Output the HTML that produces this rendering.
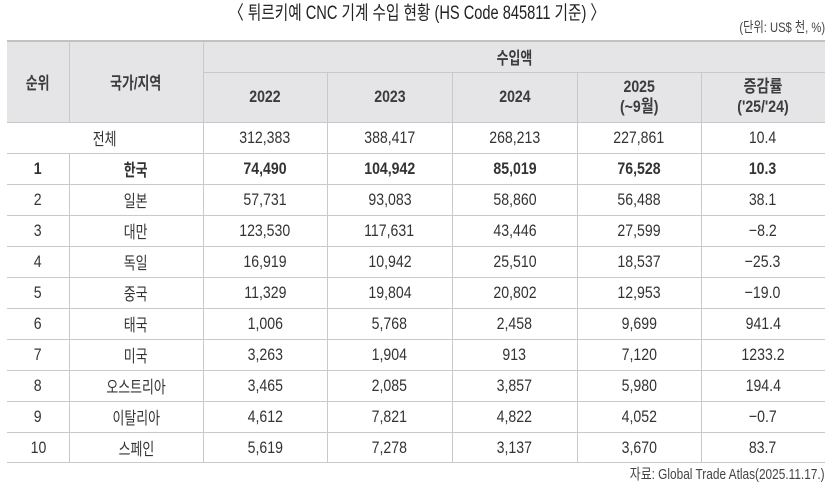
<!DOCTYPE html>
<html><head><meta charset="utf-8">
<style>
html,body{margin:0;padding:0;background:#fff;}
body{width:835px;height:490px;position:relative;overflow:hidden;font-family:"Liberation Sans","Noto Sans CJK KR",sans-serif;color:#333;}
.a{position:absolute;}
.hl{position:absolute;height:1px;background:#c9c9c9;}
.vl{position:absolute;width:1px;background:#c9c9c9;}
.c{position:absolute;display:flex;align-items:center;justify-content:center;text-align:center;font-size:17px;white-space:nowrap;}
.row{position:absolute;left:7px;height:31px;display:flex;font-size:17px;}
.row>div{display:flex;align-items:center;justify-content:center;white-space:nowrap;}
.n{display:inline-block;transform:scaleX(.83);}
.k{display:inline-block;transform:scaleX(.76);}
.b{font-weight:bold;color:#333;}
.h{color:#3c3c3c;font-weight:bold;}
.w1{width:62px}.w2{width:134px}.w3{width:124px}.w4{width:125px}.w5{width:125px}.w6{width:124px}.w7{width:124px}
</style></head><body>

<!-- title -->
<div class="a" style="left:0;top:2px;width:835px;text-align:center;font-size:19px;line-height:24px;color:#222;white-space:nowrap;">
<span style="display:inline-block;transform:scaleX(.77);">〈 튀르키예 CNC 기계 수입 현황 (HS Code 845811 기준) 〉</span>
</div>
<div class="a" style="right:10px;top:18px;font-size:14px;line-height:18px;color:#444;white-space:nowrap;">
<span style="display:inline-block;transform:scaleX(.8);transform-origin:right center;">(단위: US$ 천, %)</span>
</div>

<!-- header background -->
<div class="a" style="left:7px;top:41px;width:818px;height:81px;background:#e5e5e7;"></div>

<!-- lines -->
<div class="hl" style="left:7px;top:40px;width:818px;height:2px;background:#c2c2c2;"></div>
<div class="hl" style="left:203px;top:72px;width:622px;"></div>
<div class="hl" style="left:7px;top:122px;width:818px;"></div>
<div class="hl" style="left:7px;top:153px;width:818px;"></div>
<div class="hl" style="left:7px;top:184px;width:818px;"></div>
<div class="hl" style="left:7px;top:215px;width:818px;"></div>
<div class="hl" style="left:7px;top:246px;width:818px;"></div>
<div class="hl" style="left:7px;top:277px;width:818px;"></div>
<div class="hl" style="left:7px;top:308px;width:818px;"></div>
<div class="hl" style="left:7px;top:339px;width:818px;"></div>
<div class="hl" style="left:7px;top:370px;width:818px;"></div>
<div class="hl" style="left:7px;top:401px;width:818px;"></div>
<div class="hl" style="left:7px;top:432px;width:818px;"></div>
<div class="hl" style="left:7px;top:462px;width:818px;"></div>

<div class="vl" style="left:69px;top:42px;height:80px;"></div>
<div class="vl" style="left:69px;top:153px;height:309px;"></div>
<div class="vl" style="left:203px;top:42px;height:420px;"></div>
<div class="vl" style="left:327px;top:72px;height:390px;"></div>
<div class="vl" style="left:452px;top:72px;height:390px;"></div>
<div class="vl" style="left:577px;top:72px;height:390px;"></div>
<div class="vl" style="left:701px;top:72px;height:390px;"></div>

<!-- header text -->
<div class="c h" style="left:7px;top:41px;width:62px;height:81px;"><span class="k">순위</span></div>
<div class="c h" style="left:69px;top:41px;width:134px;height:81px;"><span class="k">국가/지역</span></div>
<div class="c h" style="left:203px;top:41px;width:622px;height:31px;"><span class="k">수입액</span></div>
<div class="c h" style="left:203px;top:72px;width:124px;height:50px;"><span class="n">2022</span></div>
<div class="c h" style="left:327px;top:72px;width:125px;height:50px;"><span class="n">2023</span></div>
<div class="c h" style="left:452px;top:72px;width:125px;height:50px;"><span class="n">2024</span></div>
<div class="c h" style="left:577px;top:72px;width:124px;height:50px;line-height:20px;"><span class="n">2025<br>(~9월)</span></div>
<div class="c h" style="left:701px;top:72px;width:124px;height:50px;line-height:20px;"><span class="n">증감률<br>('25/'24)</span></div>

<!-- total row -->
<div class="row" style="top:122px;">
<div style="width:196px"><span class="k">전체</span></div>
<div class="w3"><span class="n">312,383</span></div>
<div class="w4"><span class="n">388,417</span></div>
<div class="w5"><span class="n">268,213</span></div>
<div class="w6"><span class="n">227,861</span></div>
<div class="w7"><span class="n">10.4</span></div>
</div>

<div class="row b" style="top:153px;">
<div class="w1"><span class="n">1</span></div><div class="w2"><span class="k">한국</span></div>
<div class="w3"><span class="n">74,490</span></div><div class="w4"><span class="n">104,942</span></div>
<div class="w5"><span class="n">85,019</span></div><div class="w6"><span class="n">76,528</span></div>
<div class="w7"><span class="n">10.3</span></div>
</div>

<div class="row" style="top:184px;">
<div class="w1"><span class="n">2</span></div><div class="w2"><span class="k">일본</span></div>
<div class="w3"><span class="n">57,731</span></div><div class="w4"><span class="n">93,083</span></div>
<div class="w5"><span class="n">58,860</span></div><div class="w6"><span class="n">56,488</span></div>
<div class="w7"><span class="n">38.1</span></div>
</div>

<div class="row" style="top:215px;">
<div class="w1"><span class="n">3</span></div><div class="w2"><span class="k">대만</span></div>
<div class="w3"><span class="n">123,530</span></div><div class="w4"><span class="n">117,631</span></div>
<div class="w5"><span class="n">43,446</span></div><div class="w6"><span class="n">27,599</span></div>
<div class="w7"><span class="n">−8.2</span></div>
</div>

<div class="row" style="top:246px;">
<div class="w1"><span class="n">4</span></div><div class="w2"><span class="k">독일</span></div>
<div class="w3"><span class="n">16,919</span></div><div class="w4"><span class="n">10,942</span></div>
<div class="w5"><span class="n">25,510</span></div><div class="w6"><span class="n">18,537</span></div>
<div class="w7"><span class="n">−25.3</span></div>
</div>

<div class="row" style="top:277px;">
<div class="w1"><span class="n">5</span></div><div class="w2"><span class="k">중국</span></div>
<div class="w3"><span class="n">11,329</span></div><div class="w4"><span class="n">19,804</span></div>
<div class="w5"><span class="n">20,802</span></div><div class="w6"><span class="n">12,953</span></div>
<div class="w7"><span class="n">−19.0</span></div>
</div>

<div class="row" style="top:308px;">
<div class="w1"><span class="n">6</span></div><div class="w2"><span class="k">태국</span></div>
<div class="w3"><span class="n">1,006</span></div><div class="w4"><span class="n">5,768</span></div>
<div class="w5"><span class="n">2,458</span></div><div class="w6"><span class="n">9,699</span></div>
<div class="w7"><span class="n">941.4</span></div>
</div>

<div class="row" style="top:339px;">
<div class="w1"><span class="n">7</span></div><div class="w2"><span class="k">미국</span></div>
<div class="w3"><span class="n">3,263</span></div><div class="w4"><span class="n">1,904</span></div>
<div class="w5"><span class="n">913</span></div><div class="w6"><span class="n">7,120</span></div>
<div class="w7"><span class="n">1233.2</span></div>
</div>

<div class="row" style="top:370px;">
<div class="w1"><span class="n">8</span></div><div class="w2"><span class="k">오스트리아</span></div>
<div class="w3"><span class="n">3,465</span></div><div class="w4"><span class="n">2,085</span></div>
<div class="w5"><span class="n">3,857</span></div><div class="w6"><span class="n">5,980</span></div>
<div class="w7"><span class="n">194.4</span></div>
</div>

<div class="row" style="top:401px;">
<div class="w1"><span class="n">9</span></div><div class="w2"><span class="k">이탈리아</span></div>
<div class="w3"><span class="n">4,612</span></div><div class="w4"><span class="n">7,821</span></div>
<div class="w5"><span class="n">4,822</span></div><div class="w6"><span class="n">4,052</span></div>
<div class="w7"><span class="n">−0.7</span></div>
</div>

<div class="row" style="top:432px;">
<div class="w1"><span class="n">10</span></div><div class="w2"><span class="k">스페인</span></div>
<div class="w3"><span class="n">5,619</span></div><div class="w4"><span class="n">7,278</span></div>
<div class="w5"><span class="n">3,137</span></div><div class="w6"><span class="n">3,670</span></div>
<div class="w7"><span class="n">83.7</span></div>
</div>

<!-- source -->
<div class="a" style="right:10px;top:465px;font-size:15px;line-height:20px;color:#444;white-space:nowrap;">
<span style="display:inline-block;transform:scaleX(.79);transform-origin:right center;">자료: Global Trade Atlas(2025.11.17.)</span>
</div>

</body></html>
